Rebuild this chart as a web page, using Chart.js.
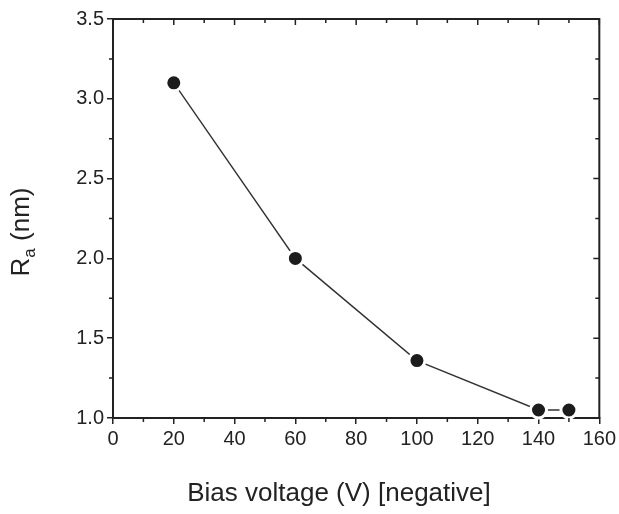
<!DOCTYPE html>
<html><head><meta charset="utf-8">
<script src="https://cdn.jsdelivr.net/npm/chart.js@4.4.1/dist/chart.umd.min.js"></script>
<style>html,body{margin:0;padding:0;background:#fff}canvas{display:block}</style>
</head><body>
<canvas id="c" width="619" height="514"></canvas>
<script>
// ---- data ----
const biasVoltage = [20, 60, 100, 140, 150];
const roughnessRa = [3.10, 2.00, 1.36, 1.05, 1.05];
const xTickValues = [0, 20, 40, 60, 80, 100, 120, 140, 160];
const yTickValues = [1.0, 1.5, 2.0, 2.5, 3.0, 3.5];
const xTitle = 'Bias voltage (V) [negative]';
const yTitleMain = 'R';
const yTitleSub = 'a';
const yTitleUnit = ' (nm)';

const INK = '#222';
const FONT = '"Liberation Sans", Arial, sans-serif';

const framePlugin = {
  id: 'frame',
  afterDraw(chart) {
    const ctx = chart.ctx;
    const a = chart.chartArea;
    const xs = chart.scales.x, ys = chart.scales.y;
    ctx.save();
    ctx.strokeStyle = INK;
    ctx.lineWidth = 2;
    ctx.beginPath();
    ctx.moveTo(a.left, a.top); ctx.lineTo(a.right, a.top); ctx.lineTo(a.right, a.bottom);
    ctx.stroke();
    ctx.lineWidth = 1.5;
    ctx.beginPath();
    for (let v = xs.min; v <= xs.max + 1e-9; v += 10) {
      const px = xs.getPixelForValue(v);
      const major = Math.abs(v % 20) < 1e-9;
      const len = major ? 6 : 4;
      if (!major) { ctx.moveTo(px, a.bottom); ctx.lineTo(px, a.bottom + len); }
      ctx.moveTo(px, a.top); ctx.lineTo(px, a.top + len);
    }
    for (let v = ys.min; v <= ys.max + 1e-9; v += 0.25) {
      const py = ys.getPixelForValue(v);
      const major = Math.abs((v * 2) - Math.round(v * 2)) < 1e-9;
      const len = major ? 6 : 4;
      if (!major) { ctx.moveTo(a.left, py); ctx.lineTo(a.left - len, py); }
      ctx.moveTo(a.right, py); ctx.lineTo(a.right - len, py);
    }
    ctx.stroke();

    ctx.fillStyle = INK;
    ctx.font = '26px ' + FONT;
    ctx.textAlign = 'center';
    ctx.textBaseline = 'alphabetic';
    ctx.fillText(xTitle, 339, 501);

    const mainFont = '26px ' + FONT, subFont = '17px ' + FONT;
    ctx.font = mainFont; const wR = ctx.measureText(yTitleMain).width;
    const wU = ctx.measureText(yTitleUnit).width;
    ctx.font = subFont; const wA = ctx.measureText(yTitleSub).width;
    const total = wR + wA + wU;
    ctx.translate(29, 232);
    ctx.rotate(-Math.PI / 2);
    ctx.textAlign = 'left';
    let x0 = -total / 2;
    ctx.font = mainFont; ctx.fillText(yTitleMain, x0, 0); x0 += wR;
    ctx.font = subFont; ctx.fillText(yTitleSub, x0, 6); x0 += wA;
    ctx.font = mainFont; ctx.fillText(yTitleUnit, x0, 0);
    ctx.restore();
  }
};

new Chart(document.getElementById('c'), {
  type: 'scatter',
  data: {
    datasets: [{
      data: biasVoltage.map((x, i) => ({ x, y: roughnessRa[i] })),
      showLine: true,
      borderColor: '#333',
      borderWidth: 1.4,
      pointRadius: 8,
      pointBorderWidth: 3,
      pointBorderColor: '#fff',
      pointBackgroundColor: '#1c1c1c',
      clip: false
    }]
  },
  options: {
    responsive: false,
    animation: false,
    layout: { padding: { top: 19, right: 18, left: 0, bottom: 0 } },
    plugins: { legend: { display: false }, tooltip: { enabled: false } },
    scales: {
      x: {
        type: 'linear', min: 0, max: 160,
        afterBuildTicks: s => { s.ticks = xTickValues.map(v => ({ value: v })); },
        afterFit: s => { s.height = 96; },
        ticks: { color: INK, font: { size: 20, family: FONT }, padding: 3, maxRotation: 0 },
        grid: { drawOnChartArea: false, drawTicks: true, tickLength: 6, color: INK, lineWidth: 1.5 },
        border: { display: true, color: INK, width: 2 }
      },
      y: {
        type: 'linear', min: 1.0, max: 3.5,
        afterBuildTicks: s => { s.ticks = yTickValues.map(v => ({ value: v })); },
        afterFit: s => { s.width = 113; },
        ticks: { color: INK, font: { size: 20, family: FONT }, padding: 3, callback: v => v.toFixed(1) },
        grid: { drawOnChartArea: false, drawTicks: true, tickLength: 6, color: INK, lineWidth: 1.5 },
        border: { display: true, color: INK, width: 2 }
      }
    }
  },
  plugins: [framePlugin]
});
</script>
</body></html>
